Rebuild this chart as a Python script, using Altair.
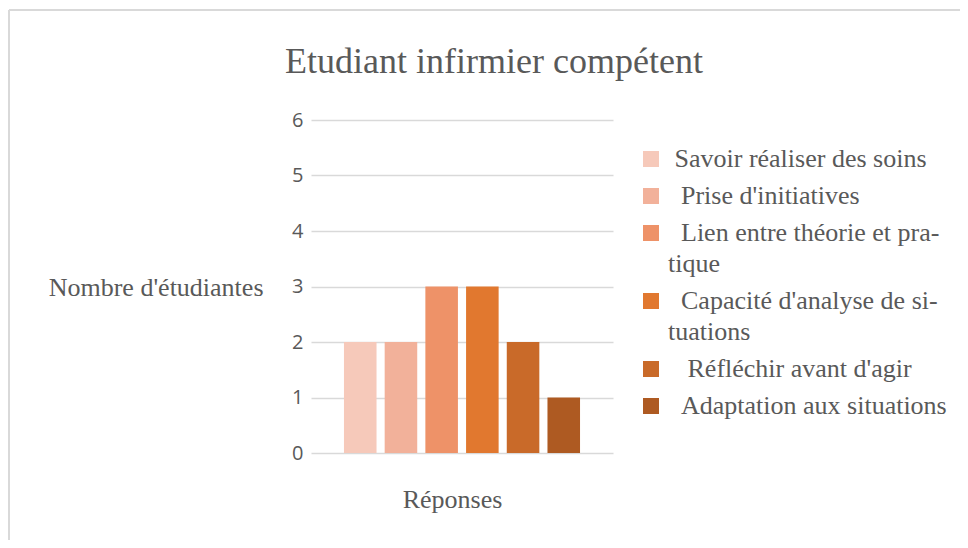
import json
import altair as alt
import pandas as pd

categories = [
    "Savoir réaliser des soins",
    "Prise d'initiatives",
    "Lien entre théorie et pratique",
    "Capacité d'analyse de situations",
    "Réfléchir avant d'agir",
    "Adaptation aux situations",
]
values = [2, 2, 3, 3, 2, 1]
colors = ["#F6C9BA", "#F2B19A", "#EE9268", "#E1782F", "#C96A29", "#AE5A22"]
y_ticks = [0, 1, 2, 3, 4, 5, 6]

ZW = "\u200b"
NB = "\u00a0"
legend_lines = {
    categories[0]: [ZW + NB + "Savoir réaliser des soins"],
    categories[1]: [ZW + NB * 2 + "Prise d'initiatives"],
    categories[2]: [ZW + NB * 2 + "Lien entre théorie et pra-", "tique"],
    categories[3]: [ZW + NB * 2 + "Capacité d'analyse de si-", "tuations"],
    categories[4]: [ZW + NB * 3 + "Réfléchir avant d'agir"],
    categories[5]: [ZW + NB * 2 + "Adaptation aux situations"],
}
expr = ""
for k, v in legend_lines.items():
    expr += "datum.label == " + json.dumps(k, ensure_ascii=False) + " ? " + json.dumps(v, ensure_ascii=False) + " : "
expr += "datum.label"

df = pd.DataFrame({"Réponse": categories, "Nombre": values})

GRAY = "#595959"
SERIF = "Liberation Serif"

bars = alt.Chart(df).mark_bar().encode(
    x=alt.X(
        "Réponse:N",
        sort=categories,
        scale=alt.Scale(paddingInner=0.2, paddingOuter=0.81),
        axis=alt.Axis(
            labels=False, ticks=False, domain=False, grid=False,
            title="Réponses", titleFont=SERIF, titleFontSize=26,
            titleFontWeight="normal", titleColor=GRAY,
            titleX=141, titleY=54, titleAlign="center", titleBaseline="alphabetic",
        ),
    ),
    y=alt.Y(
        "Nombre:Q",
        scale=alt.Scale(domain=[0, 6]),
        axis=alt.Axis(
            values=y_ticks, ticks=False, domain=False, grid=True,
            gridColor="#D9D9D9", gridWidth=1.5,
            labelFont="Open Sans", labelFontSize=20, labelColor=GRAY, labelPadding=8,
            title="Nombre d'étudiantes", titleFont=SERIF, titleFontSize=26,
            titleFontWeight="normal", titleColor=GRAY, titleAngle=0,
            titleAlign="right", titleBaseline="alphabetic", titleX=-48, titleY=175,
        ),
    ),
    color=alt.Color(
        "Réponse:N",
        sort=categories,
        scale=alt.Scale(domain=categories, range=colors),
        legend=alt.Legend(
            title=None, orient="none", legendX=327, legendY=26, padding=0,
            symbolType="square", symbolSize=256, symbolStrokeWidth=0,
            symbolOpacity=1,
            labelFont=SERIF, labelFontSize=26, labelColor=GRAY,
            labelOffset=4, labelLimit=400, rowPadding=11,
            labelExpr=expr,
        ),
    ),
)

one = alt.Chart(df).transform_filter("datum.Nombre == 1")
frame_top = one.mark_rule(stroke="#D9D9D9", strokeWidth=2, clip=False).encode(
    x=alt.value(-302), x2=alt.value(660), y=alt.value(-110), y2=alt.value(-110)
)
frame_left = one.mark_rule(stroke="#D9D9D9", strokeWidth=2, clip=False).encode(
    x=alt.value(-302), x2=alt.value(-302), y=alt.value(-110), y2=alt.value(430)
)

chart = alt.layer(frame_top, frame_left, bars).properties(
    width=302,
    height=333,
    autosize=alt.AutoSizeParams(type="none"),
    padding={"left": 303, "top": 112, "right": 347, "bottom": 87},
    title=alt.TitleParams(
        "Etudiant infirmier compétent", font=SERIF, fontSize=36,
        fontWeight="normal", color=GRAY, anchor="middle", frame="group",
        baseline="alphabetic", offset=-100, dx=32,
    ),
).configure(
    view=alt.ViewConfig(stroke=None),
    style={"guide-label": {"lineHeight": 31}},
)

chart.save("out.html", embed_options={"renderer": "svg", "actions": False})
